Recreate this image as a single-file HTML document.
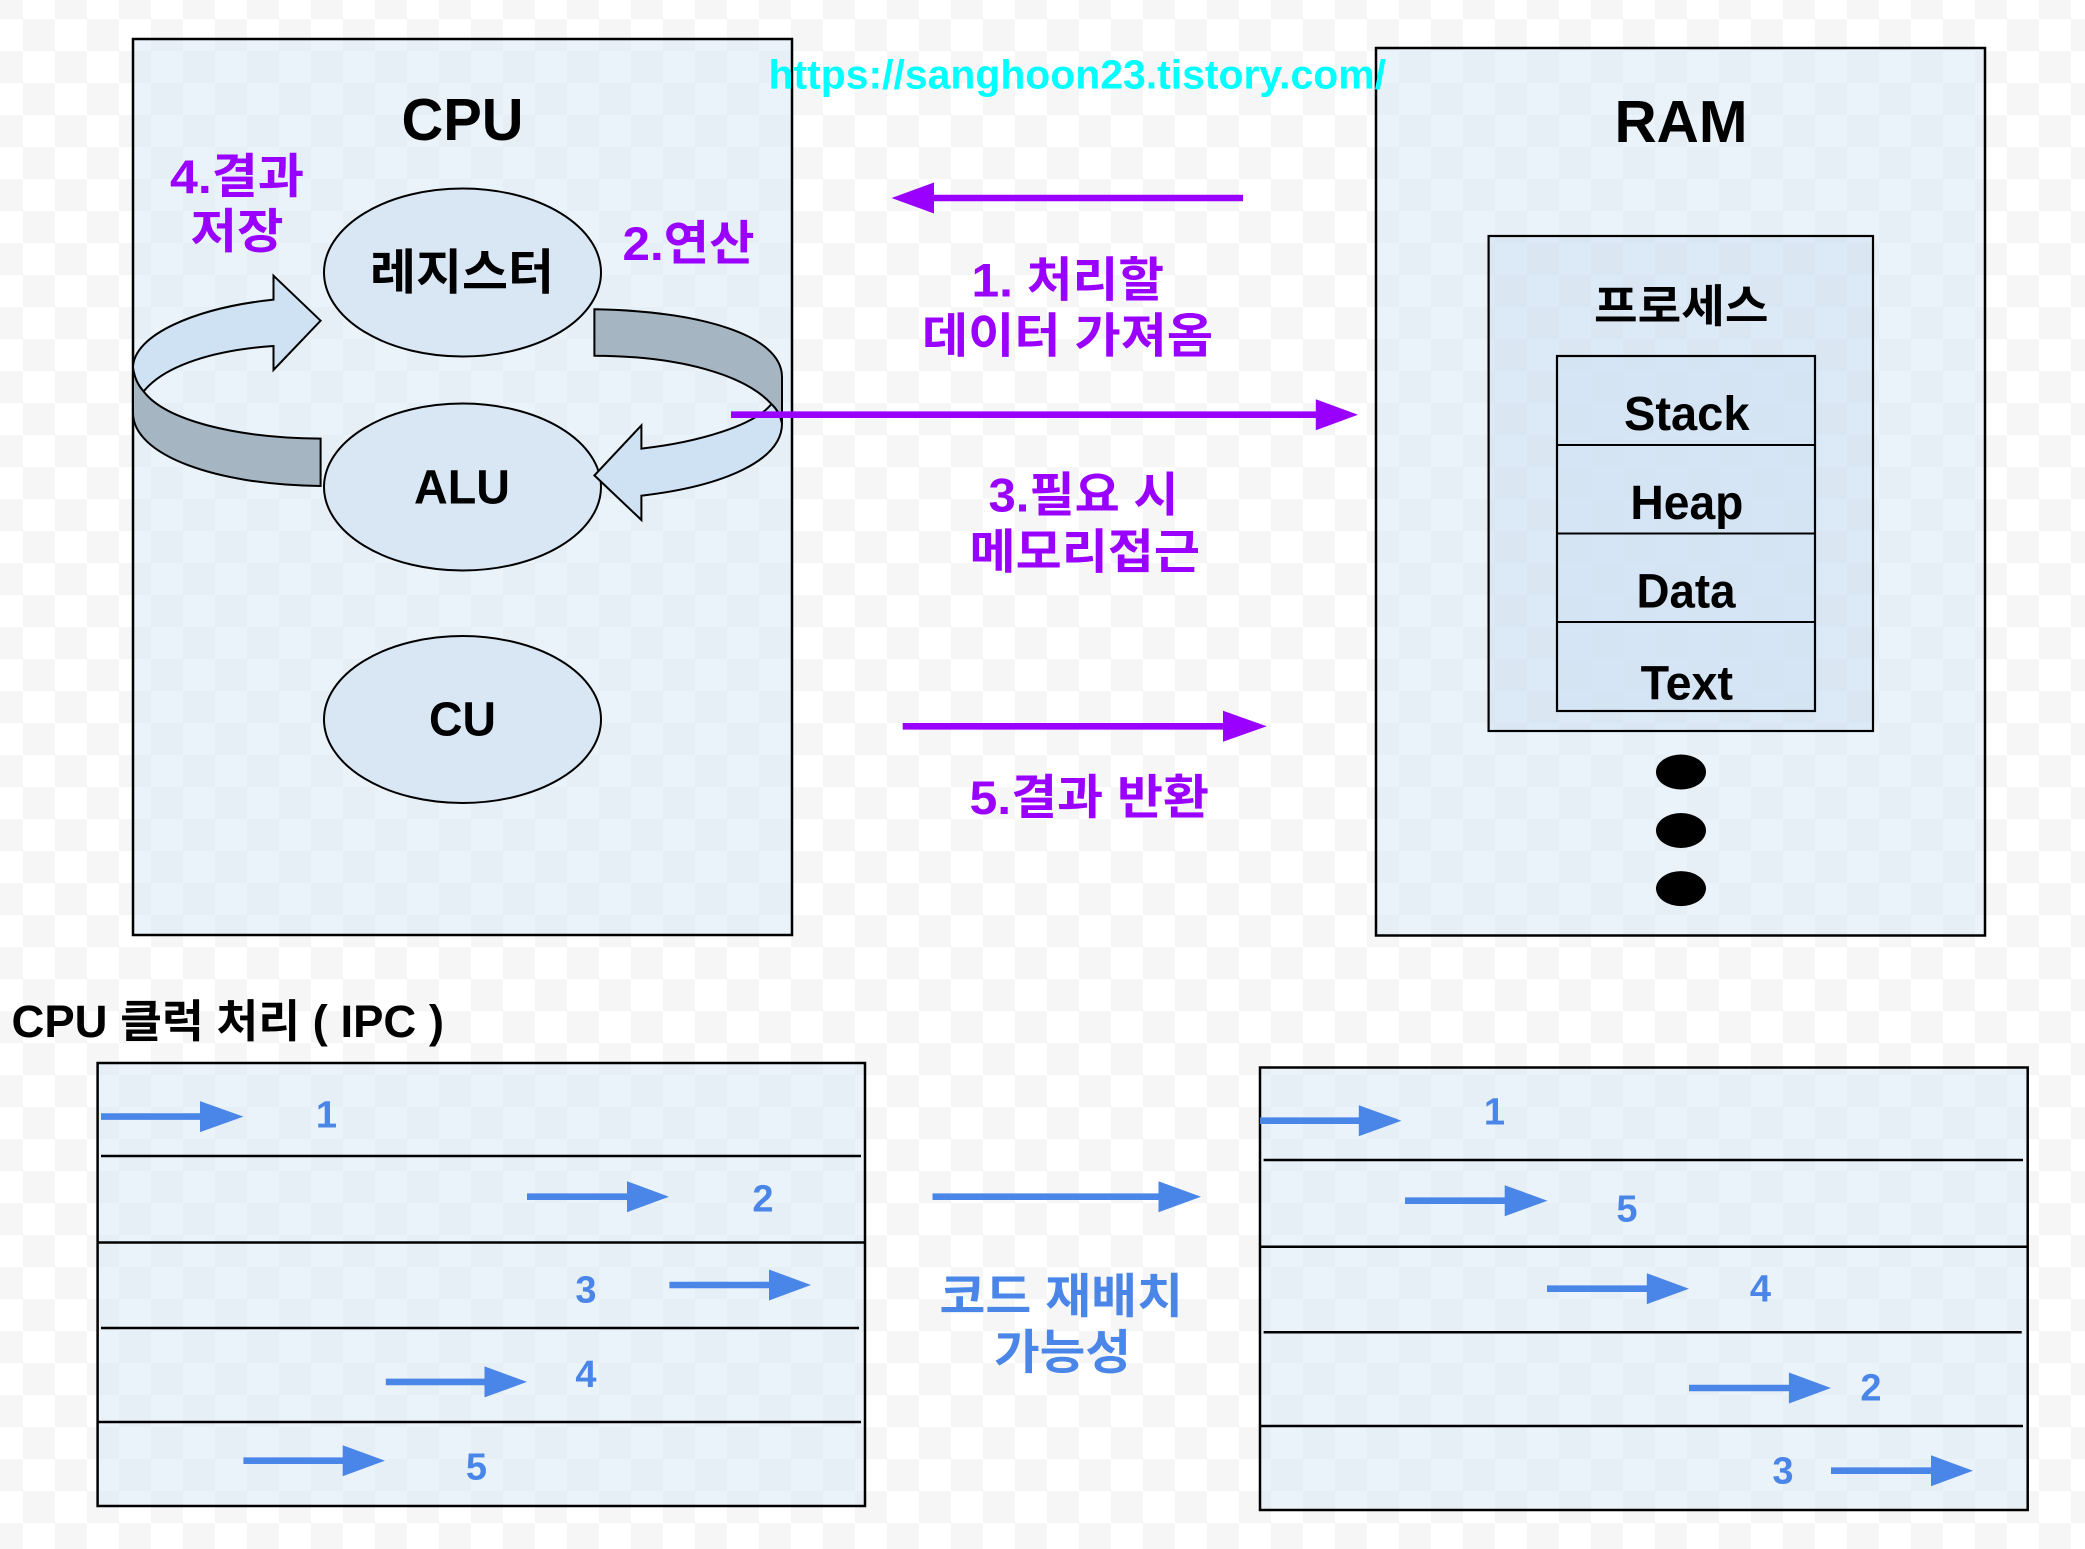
<!DOCTYPE html>
<html lang="ko"><head><meta charset="utf-8"><title>CPU RAM</title>
<style>
html,body{margin:0;padding:0;width:2085px;height:1549px;overflow:hidden;background-color:#fff;
background-image:repeating-conic-gradient(#f6f6f6 0 25%,#fff 0 50%);background-size:64px 64px;background-position:-41px -13px}
svg{display:block;position:absolute;left:0;top:0}
text{font-family:"Liberation Sans","Noto Sans CJK KR",sans-serif;font-weight:700}
.k{fill:#000}.p{fill:#9900ff}.b{fill:#4a86e8}
</style></head><body>
<svg width="2085" height="1549" viewBox="0 0 2085 1549" xmlns="http://www.w3.org/2000/svg">
<g fill="rgba(216,232,245,.55)" stroke="#000" stroke-width="2.5">
<rect x="133" y="39" width="659" height="896"/>
<rect x="1376" y="48" width="609" height="887.5"/>
<rect x="97.6" y="1063" width="767.4" height="443"/>
<rect x="1260" y="1067.5" width="767.7" height="442.5"/>
</g>
<g stroke="#000" stroke-width="2.5">
<line x1="101" y1="1156" x2="861" y2="1156"/><line x1="97.6" y1="1242.5" x2="865" y2="1242.5"/>
<line x1="101" y1="1328" x2="859" y2="1328"/><line x1="97.6" y1="1422" x2="861" y2="1422"/>
<line x1="1263.6" y1="1160" x2="2023" y2="1160"/><line x1="1260" y1="1246.7" x2="2027" y2="1246.7"/>
<line x1="1263.6" y1="1332.3" x2="2021.7" y2="1332.3"/><line x1="1260" y1="1426" x2="2023" y2="1426"/>
</g>
<rect x="1488.6" y="236" width="384.4" height="495" fill="rgba(200,221,241,.4)" stroke="#000" stroke-width="2.2"/>
<rect x="1557" y="356" width="258" height="355" fill="rgba(204,225,245,.45)" stroke="#000" stroke-width="2.2"/>
<g stroke="#000" stroke-width="2"><line x1="1557" y1="445" x2="1815" y2="445"/><line x1="1557" y1="533.5" x2="1815" y2="533.5"/><line x1="1557" y1="622" x2="1815" y2="622"/></g>
<g fill="#000"><ellipse cx="1681" cy="772" rx="25" ry="17.5"/><ellipse cx="1681" cy="830.5" rx="25" ry="17.5"/><ellipse cx="1681" cy="888.6" rx="25" ry="17.5"/></g>
<g fill="#d9e7f4" stroke="#000" stroke-width="2">
<ellipse cx="462.5" cy="272.5" rx="138.5" ry="84"/>
<ellipse cx="462.5" cy="487" rx="138.5" ry="83.5"/>
<ellipse cx="462.5" cy="719.5" rx="138.5" ry="83.5"/>
</g>
<g stroke="#000" stroke-width="2" stroke-linejoin="miter">
<path fill="#cfe2f3" d="M320.6,320.7 L273.5,275.7 V299.6 C195,308 133,335 133,368 Q135,382 143.6,391.4 C165,365 215,350 273.5,346 V370 Z"/>
<path fill="#a5b5c2" d="M133,368 V412.9 C133,455 215,485 320.6,486 V438.6 C235,438 165,420 143.6,391.4 Q135,382 133,368 Z"/>
<path fill="#cfe2f3" d="M594.4,475.4 L641.4,425.4 V448.6 C700,442 755,425 771.4,404 Q780,412 782,423.6 C782,460 725,486 641.4,495.7 V520 Z"/>
<path fill="#a5b5c2" d="M594.4,309.3 C700,311 782,335 782,377 V423.6 Q780,412 771.4,404 C745,375 680,356 594.4,355.7 Z"/>
</g>
<g fill="#9900ff">
<polygon points="891.5,198 934,182.5 934,194.7 1243,194.7 1243,201.3 934,201.3 934,213.5"/>
<polygon points="731,411.4 1315.8,411.4 1315.8,399.2 1358,414.7 1315.8,430.2 1315.8,418 731,418"/>
<polygon points="902.7,723 1223,723 1223,710.8 1266.7,726.3 1223,741.8 1223,729.6 902.7,729.6"/>
</g>
<g fill="#4a86e8">
<polygon points="101,1113.3 200,1113.3 200,1101.1 243.4,1116.6 200,1132.1 200,1119.9 101,1119.9"/>
<polygon points="527,1193.4 627,1193.4 627,1181.2 669,1196.7 627,1212.2 627,1200 527,1200"/>
<polygon points="669.4,1281.7 769,1281.7 769,1269.5 811,1285 769,1300.5 769,1288.3 669.4,1288.3"/>
<polygon points="385.8,1378.6 484.5,1378.6 484.5,1366.4 527,1381.9 484.5,1397.4 484.5,1385.2 385.8,1385.2"/>
<polygon points="243.4,1457.4 342.7,1457.4 342.7,1445.2 385,1460.7 342.7,1476.2 342.7,1464 243.4,1464"/>
<polygon points="1260,1117.4 1358.8,1117.4 1358.8,1105.2 1401.5,1120.7 1358.8,1136.2 1358.8,1124 1260,1124"/>
<polygon points="1405,1197.4 1504.7,1197.4 1504.7,1185.2 1547.5,1200.7 1504.7,1216.2 1504.7,1204 1405,1204"/>
<polygon points="1547,1285.4 1646.8,1285.4 1646.8,1273.2 1689,1288.7 1646.8,1304.2 1646.8,1292 1547,1292"/>
<polygon points="1689,1384.7 1788.9,1384.7 1788.9,1372.5 1831,1388 1788.9,1403.5 1788.9,1391.3 1689,1391.3"/>
<polygon points="1831,1467.4 1931,1467.4 1931,1455.2 1973,1470.7 1931,1486.2 1931,1474 1831,1474"/>
<polygon points="932.5,1193.4 1158.5,1193.4 1158.5,1181.2 1201,1196.7 1158.5,1212.2 1158.5,1200 932.5,1200"/>
</g>
<g class="k">
<text x="401.5" y="140" font-size="59" textLength="122" lengthAdjust="spacingAndGlyphs">CPU</text>
<text x="1614.5" y="142" font-size="59" textLength="133" lengthAdjust="spacingAndGlyphs">RAM</text>
<text x="370" y="289" font-size="48.5" textLength="184" lengthAdjust="spacingAndGlyphs">레지스터</text>
<text x="414" y="503.5" font-size="48" textLength="96" lengthAdjust="spacingAndGlyphs">ALU</text>
<text x="429" y="735.5" font-size="48" textLength="67" lengthAdjust="spacingAndGlyphs">CU</text>
<text x="11.5" y="1037" font-size="45" textLength="432.5" lengthAdjust="spacingAndGlyphs">CPU 클럭 처리 ( IPC )</text>
<text x="1594" y="322" font-size="45" textLength="174.5" lengthAdjust="spacingAndGlyphs">프로세스</text>
<text x="1624" y="430" font-size="48" textLength="125.5" lengthAdjust="spacingAndGlyphs">Stack</text>
<text x="1630.4" y="519" font-size="48" textLength="113" lengthAdjust="spacingAndGlyphs">Heap</text>
<text x="1636.5" y="607.5" font-size="48" textLength="99" lengthAdjust="spacingAndGlyphs">Data</text>
<text x="1640.6" y="699.6" font-size="48" textLength="92.4" lengthAdjust="spacingAndGlyphs">Text</text>
</g>
<g class="p">
<text x="170" y="193" font-size="47.5" textLength="134" lengthAdjust="spacingAndGlyphs">4.결과</text>
<text x="190.5" y="248" font-size="47.5" textLength="93" lengthAdjust="spacingAndGlyphs">저장</text>
<text x="622.5" y="260" font-size="47.5" textLength="132" lengthAdjust="spacingAndGlyphs">2.연산</text>
<text x="971.5" y="296.7" font-size="47.5" textLength="192.5" lengthAdjust="spacingAndGlyphs">1. 처리할</text>
<text x="922" y="352.5" font-size="47.5" textLength="291" lengthAdjust="spacingAndGlyphs">데이터 가져옴</text>
<text x="988.5" y="511.7" font-size="47.5" textLength="190" lengthAdjust="spacingAndGlyphs">3.필요 시</text>
<text x="969.5" y="568.5" font-size="47.5" textLength="230.5" lengthAdjust="spacingAndGlyphs">메모리접근</text>
<text x="969.5" y="814" font-size="47.5" textLength="239.5" lengthAdjust="spacingAndGlyphs">5.결과 반환</text>
</g>
<g class="b" font-size="38" text-anchor="middle">
<text x="326.5" y="1127.5">1</text><text x="763" y="1211.7">2</text><text x="586" y="1302.6">3</text><text x="586" y="1387">4</text><text x="476.5" y="1479.5">5</text>
<text x="1494.5" y="1124.7">1</text><text x="1627" y="1221.7">5</text><text x="1760.5" y="1301.7">4</text><text x="1871" y="1400.7">2</text><text x="1783" y="1483.5">3</text>
</g>
<g class="b">
<text x="939.5" y="1313" font-size="47.5" textLength="243.5" lengthAdjust="spacingAndGlyphs">코드 재배치</text>
<text x="994" y="1369" font-size="47.5" textLength="137" lengthAdjust="spacingAndGlyphs">가능성</text>
</g>
<text x="768.5" y="88.5" font-size="41" fill="#00ffff" textLength="617.5" lengthAdjust="spacingAndGlyphs">https://sanghoon23.tistory.com/</text>
</svg>
</body></html>
